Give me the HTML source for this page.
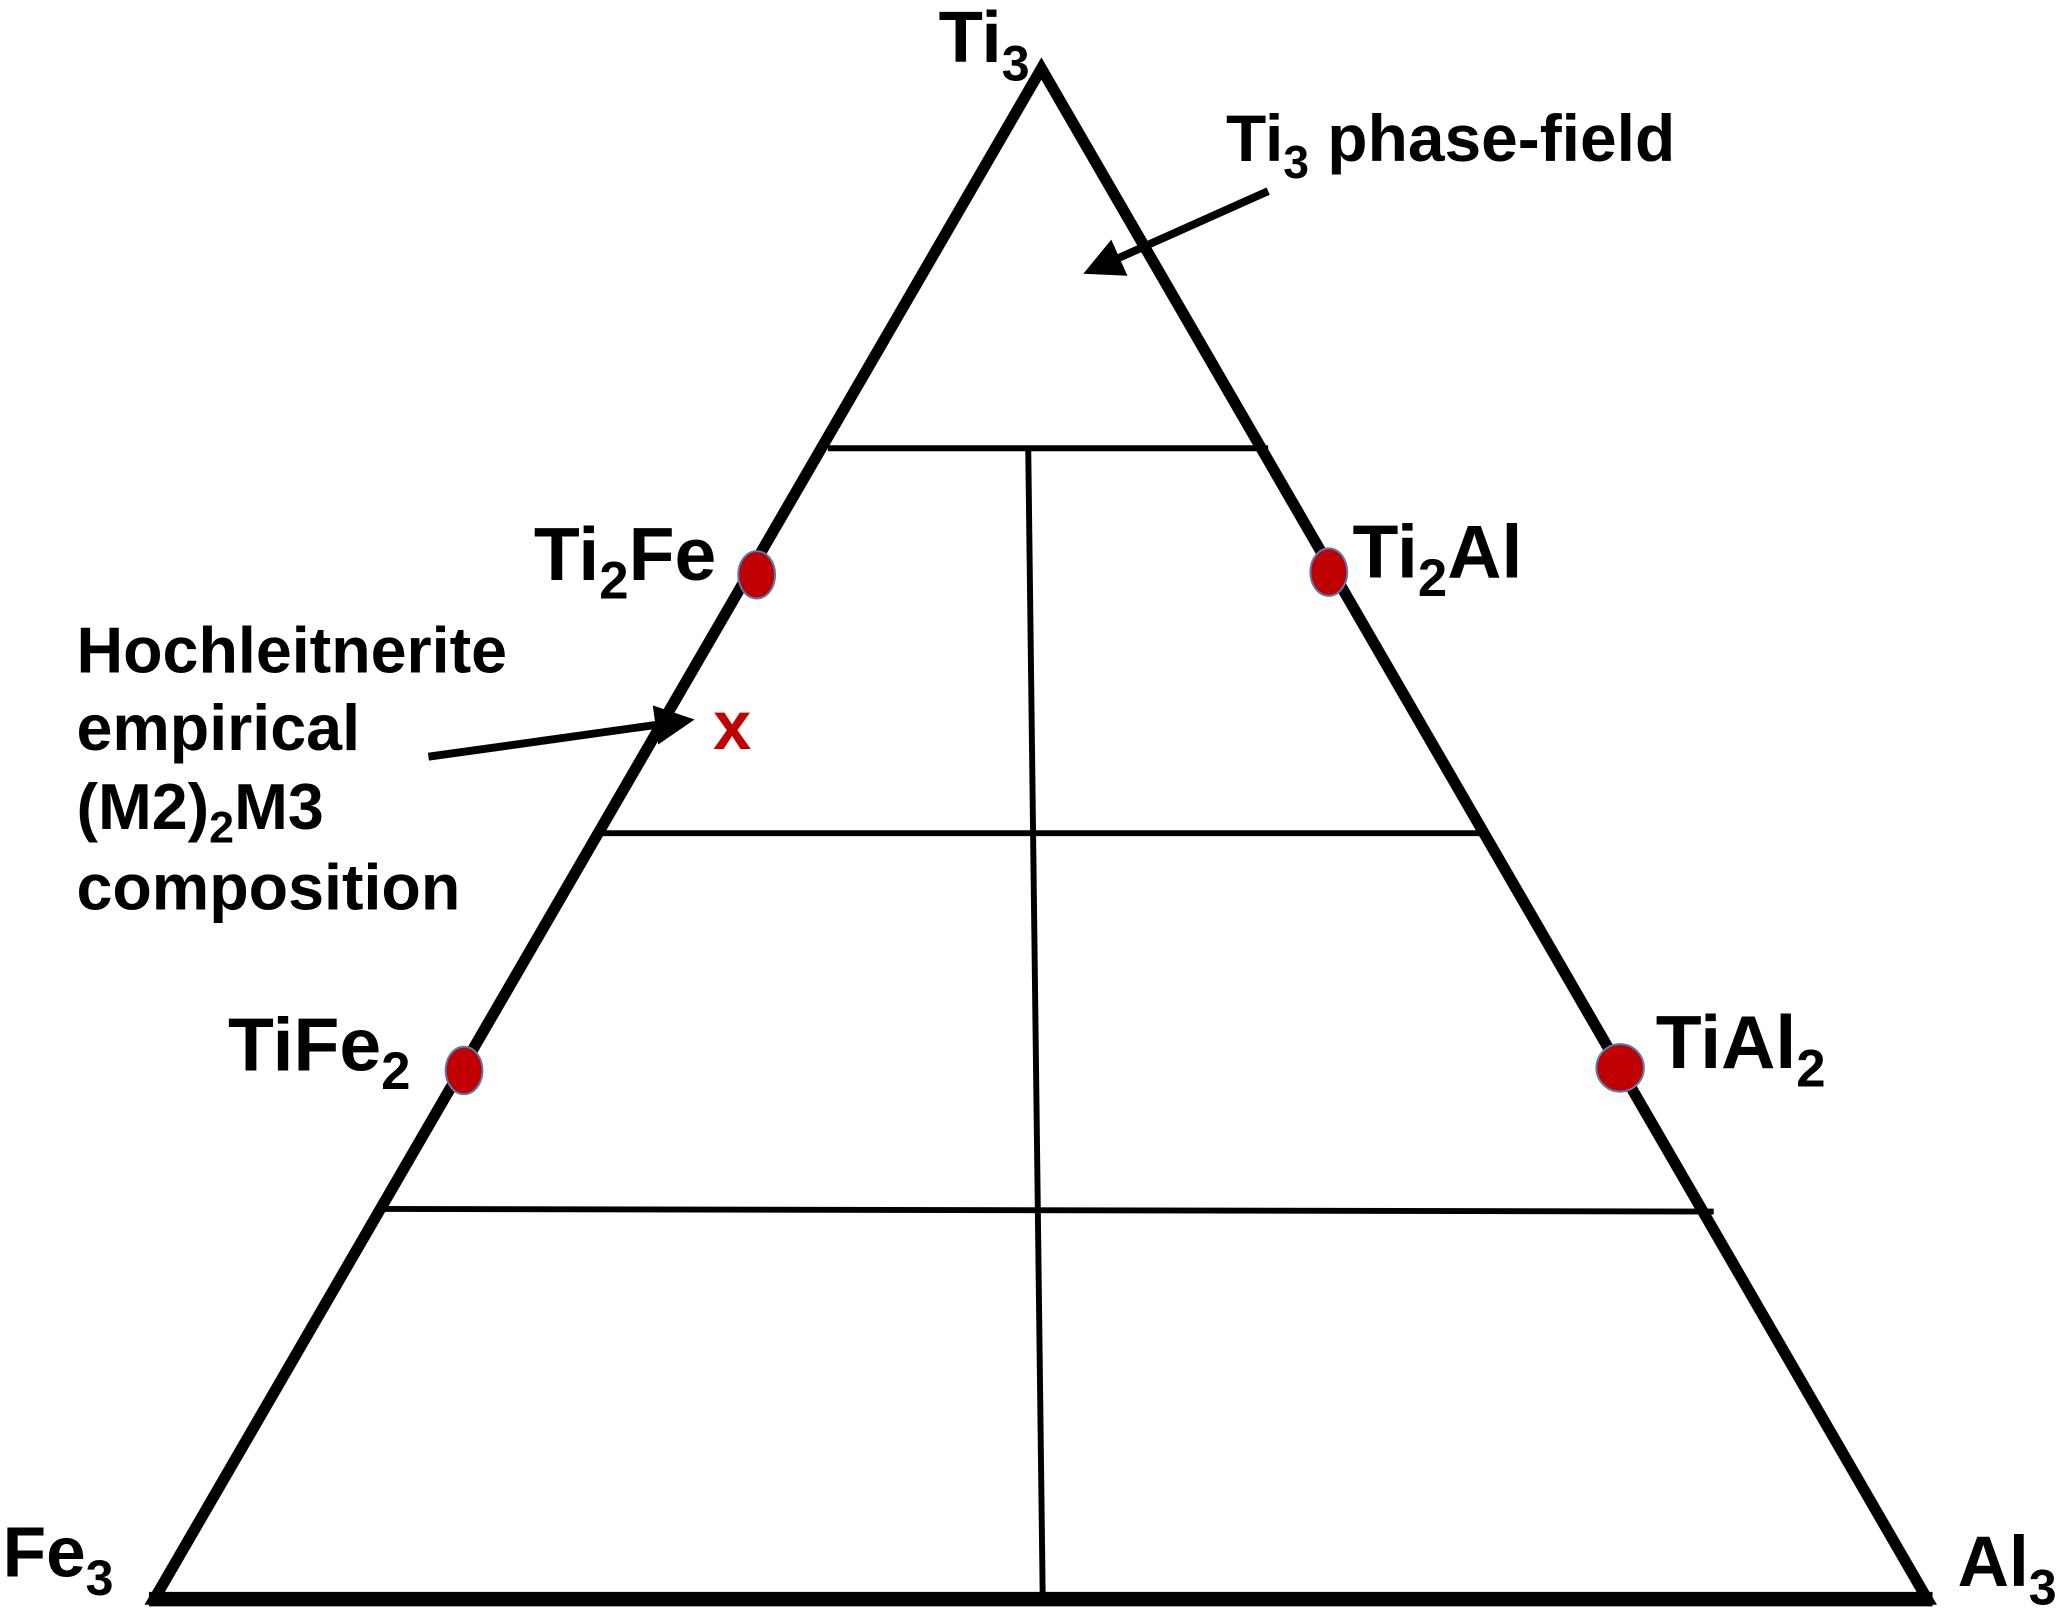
<!DOCTYPE html>
<html><head><meta charset="utf-8"><style>
html,body{margin:0;padding:0;background:#fff;}
svg{display:block;}
text{font-family:"Liberation Sans",Arial,sans-serif;font-weight:bold;fill:#000;}
</style></head><body>
<svg width="2067" height="1611" viewBox="0 0 1568 1222" preserveAspectRatio="none" xmlns="http://www.w3.org/2000/svg">
<defs>
<marker id="ah" markerWidth="5" markerHeight="5" refX="3.5" refY="2.5" orient="auto" markerUnits="strokeWidth">
<path d="M0,0 L5,2.5 L0,5 Z" fill="#000"/>
</marker>
</defs>
<polygon points="790,52 117,1213 1462,1213" fill="none" stroke="#000" stroke-width="8.5" stroke-linejoin="miter"/>
<line x1="113" y1="1213" x2="1466" y2="1213" stroke="#000" stroke-width="11"/>
<line x1="628" y1="340" x2="962" y2="340" stroke="#000" stroke-width="4.5"/>
<line x1="457" y1="632" x2="1127" y2="632" stroke="#000" stroke-width="4.5"/>
<line x1="290" y1="917" x2="1300" y2="919" stroke="#000" stroke-width="4.5"/>
<line x1="780" y1="340" x2="791" y2="1213" stroke="#000" stroke-width="4.5"/>
<line x1="962" y1="145" x2="830" y2="204" stroke="#000" stroke-width="6" marker-end="url(#ah)"/>
<line x1="325" y1="574" x2="518" y2="547" stroke="#000" stroke-width="6" marker-end="url(#ah)"/>
<g fill="#c00000" stroke="#5a7bb0" stroke-width="1.5">
<ellipse cx="574" cy="436" rx="14" ry="18"/>
<ellipse cx="1008" cy="434" rx="14" ry="18"/>
<ellipse cx="352" cy="812" rx="14" ry="18"/>
<ellipse cx="1229" cy="810" rx="18" ry="18"/>
</g>
<text x="541" y="568" font-size="52" style="fill:#c00000">x</text>
<text x="712" y="47" font-size="55">Ti<tspan font-size="38" dy="14">3</tspan></text>
<text x="930" y="122" font-size="50">Ti<tspan font-size="35" dy="13">3</tspan><tspan dy="-13"> phase-field</tspan></text>
<text x="405" y="440" font-size="57">Ti<tspan font-size="40" dy="14">2</tspan><tspan dy="-14">Fe</tspan></text>
<text x="1026" y="438" font-size="57">Ti<tspan font-size="40" dy="14">2</tspan><tspan dy="-14">Al</tspan></text>
<text x="173" y="812" font-size="57">TiFe<tspan font-size="40" dy="14">2</tspan></text>
<text x="1256" y="810" font-size="57">TiAl<tspan font-size="40" dy="14">2</tspan></text>
<text x="2" y="1196" font-size="54">Fe<tspan font-size="38" dy="14">3</tspan></text>
<text x="1485" y="1203" font-size="54">Al<tspan font-size="38" dy="14">3</tspan></text>
<text x="58" y="510" font-size="49">Hochleitnerite</text>
<text x="58" y="569" font-size="49">empirical</text>
<text x="58" y="629" font-size="49">(M2)<tspan font-size="34" dy="10">2</tspan><tspan dy="-10">M3</tspan></text>
<text x="58" y="690" font-size="49">composition</text>
</svg>
</body></html>
